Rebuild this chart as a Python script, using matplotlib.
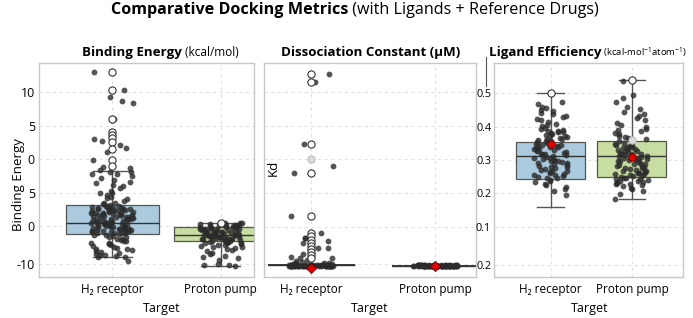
import numpy as np
import pandas as pd
import matplotlib
matplotlib.use("Agg")
import matplotlib.pyplot as plt
import seaborn as sns
from matplotlib.lines import Line2D

plt.rcParams['font.family'] = ['Open Sans', 'DejaVu Sans']
plt.rcParams['mathtext.default'] = 'regular'
np.random.seed(7)

targets = ['H₂ receptor', 'Proton pump']

# ---- Binding energy (plot units) ----
be_ticks = [20, 15, 10, 5, 0, -5.67]
be_ticklabels = ['10', '5', '0', '5', '0', '-10']
be_h2 = [23.0, 20.3, 19.2, 18.7, 18.4, 15.9, 15.8, 13.0, 12.7, 12.5, 12.1, 11.6, 11.0, 9.9, 8.8, 8.7,
         8.3, 8.1, 8.0, 7.8, 7.7, 7.4, 7.2, 6.9, 6.6, 6.4, 6.1, 5.9, 5.7, 5.3, 5.0, 4.9, 4.7, 4.4,
         4.2, 4.0, 3.7, 3.5, 3.4, 3.3, 3.1, 3.0, 3.0, 2.9, 2.8, 2.7, 2.7, 2.6, 2.5, 2.5, 2.4, 2.3,
         2.2, 2.2, 2.1, 2.0, 2.0, 1.9, 1.8, 1.7, 1.7, 1.6, 1.5, 1.5, 1.4, 1.3, 1.2, 1.2, 1.1, 1.0,
         0.9, 0.9, 0.8, 0.7, 0.7, 0.6, 0.5, 0.5, 0.4, 0.3, 0.2, 0.2, 0.1, 0.0, -0.1, -0.1, -0.2,
         -0.3, -0.4, -0.4, -0.5, -0.6, -0.7, -0.7, -0.8, -0.9, -1.0, -1.1, -1.1, -1.2, -1.3, -1.4,
         -1.6, -1.7, -1.9, -2.0, -2.2, -2.3, -2.5, -2.6, -2.8, -3.0, -3.1, -3.3, -3.4, -3.6, -3.8,
         -3.9, -4.1, -4.2, -4.4, -4.5, -4.6, -4.6, -5.2,
         2.9, 2.6, 2.4, 2.1, 1.9, 1.6, 1.4, 1.1, 0.8, 0.6, 0.3, 0.1, -0.2, -0.5, -0.8, -1.0,
         2.7, 2.3, 1.8, 1.3, 0.9, 0.4, 0.0, -0.3, -0.6, -0.9, -1.5, -2.1, -2.7, -3.5, -4.3]
be_h2_ref = [23.0, 20.3, 15.9, 14.1, 13.6, 13.1, 12.6, 11.5, 9.9, 8.9]
be_pp = [0.5, 0.4, 0.4, 0.3, 0.3, 0.2, 0.1, 0.1, 0.0, 0.0, -0.1, -0.2, -0.2, -0.3, -0.3, -0.4,
         -0.5, -0.5, -0.6, -0.6, -0.7, -0.7, -0.8, -0.9, -0.9, -1.0, -1.0, -1.1, -1.1, -1.2, -1.2,
         -1.3, -1.3, -1.4, -1.4, -1.5, -1.5, -1.6, -1.6, -1.7, -1.7, -1.8, -1.8, -1.9, -1.9, -2.0,
         -2.0, -2.1, -2.2, -2.2, -2.3, -2.3, -2.4, -2.5, -2.6, -2.7, -2.8, -2.9, -3.0, -3.1, -3.3,
         -3.4, -3.6, -3.8, -4.0, -4.2, -4.5, -4.6, -4.8, -5.0, -5.7, -5.8, -5.8, -5.9,
         0.2, 0.0, -0.3, -0.6, -0.9, -1.2, -1.5, -1.8, -2.1, -2.4, -0.1, -0.5, -1.0, -1.4, -1.9,
         -2.5, -3.2]
be_pp_ref = [0.5]
be_lo = [-4.6, -5.9]
be_q1 = [-1.2, -2.3]
be_med = [0.45, -1.4]
be_q3 = [3.1, -0.1]
be_hi = [8.2, 0.4]

# ---- Dissociation constant (uM) ----
kd_grid = [0.6, 11.6, 21.8, 31.9, 41.8, 51.9]
kd_h2 = [57.2, 55.0, 36.4, 29.9, 27.7, 15.0, 9.8, 8.4, 8.3, 7.5, 6.8, 5.5, 5.3, 3.5, 2.8, 2.4,
         2.3, 1.9, 1.5, 1.2, 1.0, 0.9, 0.8, 0.7, 0.6, 0.4, 0.1, 0.0, 0.3, 0.2, 0.1, 0.5, 0.0, 0.2,
         0.1, 0.3, 0.0, 0.1, 0.2, 0.4, 0.0, 0.1, 0.2, 0.0, 0.3, 0.1, 0.0, 0.2, 0.1, 0.0, 0.1, 0.3,
         0.2, 0.0, 0.1, 0.0, 0.2, 0.1, 0.4, 0.0, 0.1, 0.2, 0.0, 0.1, 0.3, 0.0, 0.2, 0.1, 0.0, 0.1,
         0.2, 0.0, 0.1, 0.0, 0.3, 0.1, 0.2, 0.0, 0.1, 0.3, 0.0, 0.2, 0.1, 0.0, 0.4]
kd_h2_ref = [57.2, 55.0, 36.4, 27.7, 15.0, 9.9, 9.0, 7.8, 6.9, 6.0, 5.1, 4.2, 3.3, 2.4]
kd_h2_faint = [31.9]
kd_pp = [0.1, 0.0, 0.2, 0.1, 0.0, 0.3, 0.1, 0.0, 0.2, 0.0, 0.1, 0.1, 0.0, 0.2, 0.3, 0.0, 0.1,
         0.2, 0.0, 0.1, 0.0, 0.1, 0.2, 0.0, 0.1, 0.3, 0.0, 0.1, 0.2, 0.0, 0.1, 0.0, 0.2, 0.1,
         0.0, 0.1, 0.2, 0.0, 0.1, 0.0, 0.3, 0.1, 0.0, 0.2, 0.1, 0.0, 0.1, 0.2, 0.0, 0.1, 0.0,
         0.1, 0.2, 0.0, 0.1, 0.3, 0.0, 0.1, 0.2, 0.0, 0.1, 0.0, 0.2, 0.1, 0.0, 0.1, 0.2, 0.0,
         0.1, 0.0, 0.3, 0.1, 0.0, 0.2, 0.1, 0.0, 0.1, 0.2, 0.0, 0.1]
kd_lo = [0.2, 0.1]
kd_q1 = [0.2, 0.1]
kd_med = [0.2, 0.1]
kd_q3 = [0.2, 0.1]
kd_hi = [0.2, 0.1]
kd_mean = [-0.5, 0.0]

# ---- Ligand efficiency ----
le_ticks = [0.5, 0.4, 0.3, 0.2, 0.1, -0.013]
le_ticklabels = ['0.5', '0.4', '0.3', '0.2', '0.1', '0.2']
le_h2 = [0.473, 0.466, 0.458, 0.455, 0.449, 0.446, 0.441, 0.437, 0.432, 0.428, 0.421, 0.418,
         0.412, 0.408, 0.404, 0.401, 0.397, 0.394, 0.391, 0.388, 0.386, 0.383, 0.380, 0.377,
         0.375, 0.372, 0.369, 0.367, 0.364, 0.361, 0.358, 0.356, 0.353, 0.351, 0.349, 0.346,
         0.344, 0.341, 0.339, 0.337, 0.334, 0.332, 0.329, 0.327, 0.325, 0.322, 0.319, 0.317,
         0.314, 0.312, 0.309, 0.307, 0.304, 0.301, 0.298, 0.296, 0.293, 0.290, 0.287, 0.284,
         0.281, 0.278, 0.275, 0.272, 0.268, 0.265, 0.262, 0.259, 0.256, 0.252, 0.249, 0.245,
         0.241, 0.237, 0.233, 0.229, 0.224, 0.219, 0.214, 0.208, 0.196,
         0.385, 0.362, 0.343, 0.331, 0.318, 0.305, 0.292, 0.279, 0.266, 0.254, 0.246, 0.371,
         0.338, 0.301, 0.270]
le_h2_ref = [0.499]
le_pp = [0.536, 0.494, 0.486, 0.472, 0.458, 0.451, 0.444, 0.437, 0.430, 0.424, 0.418, 0.411,
         0.405, 0.399, 0.394, 0.390, 0.386, 0.381, 0.377, 0.373, 0.369, 0.366, 0.362, 0.359,
         0.356, 0.352, 0.349, 0.346, 0.343, 0.340, 0.337, 0.334, 0.331, 0.328, 0.325, 0.322,
         0.319, 0.317, 0.314, 0.311, 0.309, 0.306, 0.303, 0.300, 0.297, 0.294, 0.291, 0.288,
         0.285, 0.282, 0.279, 0.276, 0.273, 0.270, 0.267, 0.264, 0.261, 0.258, 0.255, 0.252,
         0.249, 0.246, 0.243, 0.240, 0.237, 0.234, 0.231, 0.228, 0.225, 0.221, 0.217, 0.212,
         0.206, 0.199, 0.184, 0.345, 0.338, 0.327, 0.318, 0.304, 0.296, 0.287, 0.276, 0.268,
         0.259, 0.251, 0.244, 0.238, 0.333, 0.312, 0.299, 0.281, 0.262, 0.247, 0.235, 0.228]
le_pp_ref = [0.539]
le_pp_faint = [0.36]
le_lo = [0.159, 0.183]
le_q1 = [0.242, 0.250]
le_med = [0.311, 0.311]
le_q3 = [0.354, 0.357]
le_hi = [0.499, 0.539]
le_mean = [0.347, 0.31]

box_colors = ['#abcadd', '#c7dda1']
pos = np.arange(len(targets))
W, H = 693, 318

fig = plt.figure(figsize=(6.93, 3.18), dpi=100)
ax1 = fig.add_axes([39 / W, 41 / H, 215 / W, 214 / H])
ax2 = fig.add_axes([264 / W, 41 / H, 212 / W, 214 / H])
ax3 = fig.add_axes([494 / W, 41 / H, 189 / W, 214 / H])


def boxes(ax, lo, q1, med, q3, hi, width, capw, line='#555555', lw=0.9):
    stats = [dict(whislo=a, q1=b, med=c, q3=d, whishi=e) for a, b, c, d, e in zip(lo, q1, med, q3, hi)]
    bp = ax.bxp(stats, positions=pos, widths=width, capwidths=capw, patch_artist=True,
                showfliers=False, manage_ticks=False,
                boxprops=dict(edgecolor=line, linewidth=lw),
                medianprops=dict(color='#333333', linewidth=1.0),
                whiskerprops=dict(color=line, linewidth=1.0),
                capprops=dict(color=line, linewidth=1.0))
    for patch, c in zip(bp['boxes'], box_colors):
        patch.set_facecolor(c)
        patch.set_zorder(1)


def strip(ax, h2, pp, jitter, **kw):
    df = pd.DataFrame({'Target': [targets[0]] * len(h2) + [targets[1]] * len(pp),
                       'value': list(h2) + list(pp)})
    sns.stripplot(data=df, x='Target', y='value', order=targets, ax=ax, jitter=jitter, **kw)


dark = dict(color='#2b2b2b', alpha=0.8, size=4.2, linewidth=0, zorder=3)
ref = dict(color='white', edgecolor='#333333', linewidth=0.8, size=5.2, zorder=4)
faint = dict(color='#dcdcdc', edgecolor='#bbbbbb', linewidth=0.8, size=5.2, zorder=4)

# panel 1
boxes(ax1, be_lo, be_q1, be_med, be_q3, be_hi, 0.86, 0.36)
strip(ax1, be_h2, be_pp, 0.2, **dark)
strip(ax1, be_h2_ref, be_pp_ref, False, **ref)
ax1.set_ylim(-7.61, 24.33)
ax1.set_xlim(-0.676, 1.306)
ax1.set_yticks(be_ticks)
ax1.set_yticklabels(be_ticklabels)
ax1.set_ylabel('Binding Energy', fontsize=9.5)
ax1.yaxis.set_label_coords(-0.066, 0.43)

# panel 2
boxes(ax2, kd_lo, kd_q1, kd_med, kd_q3, kd_hi, 0.7, 0.3, line='#1a1a1a', lw=1.2)
strip(ax2, kd_h2, kd_pp, 0.18, **dark)
strip(ax2, kd_h2_ref, [], False, **ref)
strip(ax2, kd_h2_faint, [], False, **faint)
ax2.scatter(pos, kd_mean, marker='D', s=28, color='#e00000', edgecolor='#550000',
            linewidth=0.5, zorder=5)
ax2.set_ylim(-3.28, 60.6)
ax2.set_xlim(-0.38, 1.33)
ax2.set_yticks(kd_grid)
ax2.tick_params(axis='y', labelleft=False)
ax2.set_ylabel('Kd', fontsize=9.5)
ax2.yaxis.set_label_coords(0.076, 0.51)

# panel 3
boxes(ax3, le_lo, le_q1, le_med, le_q3, le_hi, 0.85, 0.33)
strip(ax3, le_h2, le_pp, 0.21, **dark)
strip(ax3, le_h2_ref, le_pp_ref, False, **ref)
strip(ax3, [], le_pp_faint, False, **faint)
ax3.scatter(pos, le_mean, marker='o', s=30, color='#e00000', edgecolor='#550000',
            linewidth=0.5, zorder=5)
ax3.set_ylim(-0.0493, 0.5896)
ax3.set_xlim(-0.70, 1.63)
ax3.set_yticks(le_ticks)
ax3.set_yticklabels(le_ticklabels)
ax3.set_ylabel('')

for ax, xl in [(ax1, 0.572), (ax2, 0.5), (ax3, 0.508)]:
    ax.set_xticks(pos)
    ax.set_xticklabels(targets)
    ax.set_xlabel('Target', fontsize=9)
    ax.xaxis.set_label_coords(xl, -0.115)
    ax.grid(True, linestyle=(0, (3, 3)), color='#e2e2e2', linewidth=0.8)
    ax.set_axisbelow(True)
    ax.tick_params(length=0, labelsize=8.5, pad=4)
    for sp in ax.spines.values():
        sp.set_color('#c8c8c8')
        sp.set_linewidth(1.0)
ax1.tick_params(axis='y', pad=3, labelsize=9)
ax3.tick_params(axis='y', pad=2, labelsize=7.8)

fig.add_artist(Line2D([485.7 / W, 485.7 / W], [1 - 57 / H, 1 - 86 / H], color='#555555', lw=0.8))


def mixed(xc, ybase, parts):
    texts = [fig.text(0, 1 - ybase / H, s, ha='left', va='baseline', **kw) for s, kw in parts]
    fig.canvas.draw()
    r = fig.canvas.get_renderer()
    widths = [t.get_window_extent(r).width for t in texts]
    x = xc - sum(widths) / 2
    for t, w in zip(texts, widths):
        t.set_x(x / W)
        x += w


mixed(355, 14.5, [('Comparative Docking Metrics', dict(fontsize=11.6, fontweight='bold')),
                  (' (with Ligands + Reference Drugs)', dict(fontsize=11.6))])
mixed(160, 55.7, [('Binding Energy', dict(fontsize=9.6, fontweight='bold')),
                  (' (kcal/mol)', dict(fontsize=8.5))])
mixed(371, 55.7, [('Dissociation Constant (μM)', dict(fontsize=9.6, fontweight='bold'))])
mixed(588, 55.7, [('Ligand Efficiency', dict(fontsize=9.6, fontweight='bold')),
                  (' (kcal-mol$^{-1}$atom$^{-1}$)', dict(fontsize=6.8))])

fig.savefig('out.png', dpi=100)
